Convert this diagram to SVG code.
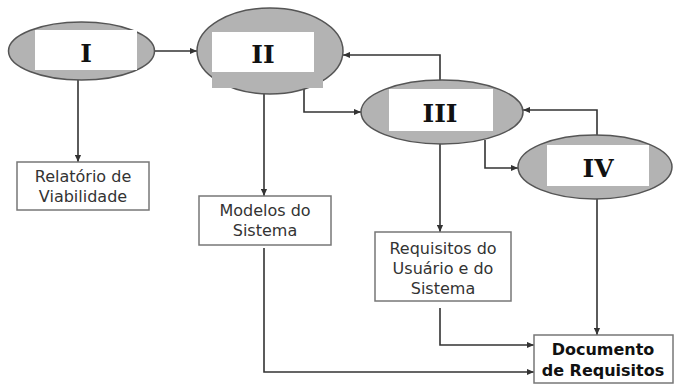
<svg xmlns="http://www.w3.org/2000/svg" width="676" height="385" viewBox="0 0 676 385">
<defs>
<marker id="arr" viewBox="0 0 8 8" refX="8" refY="4" markerWidth="7" markerHeight="7" markerUnits="userSpaceOnUse" orient="auto">
<path d="M0,0.5 L8,4 L0,7.5 Z" fill="#333"/>
</marker>
</defs>
<style>
.ell{fill:#b3b3b3;stroke:#555;stroke-width:1.5}
.win{fill:#fff;stroke:none}
.gray{fill:#b3b3b3;stroke:none}
.box{fill:#fff;stroke:#777;stroke-width:1.5}
.num{font-family:"DejaVu Serif",serif;font-weight:bold;font-size:25px;fill:#111;text-anchor:middle}
.lbl{font-family:"DejaVu Sans",sans-serif;font-size:16px;fill:#333;text-anchor:middle}
.bold{font-family:"DejaVu Sans",sans-serif;font-weight:bold;font-size:16px;fill:#111;text-anchor:middle}
.con{fill:none;stroke:#333;stroke-width:1.6}
</style>
<rect width="676" height="385" fill="#fff"/>
<g id="connectors">
<path class="con" d="M155,51 H197" marker-end="url(#arr)"/>
<path class="con" d="M78,80 V162" marker-end="url(#arr)"/>
<path class="con" d="M264,94 V196" marker-end="url(#arr)"/>
<path class="con" d="M304,88 V112 H361" marker-end="url(#arr)"/>
<path class="con" d="M440,80 V55 H343" marker-end="url(#arr)"/>
<path class="con" d="M485,140 V168 H518" marker-end="url(#arr)"/>
<path class="con" d="M597,135 V110 H523" marker-end="url(#arr)"/>
<path class="con" d="M440,144 V232" marker-end="url(#arr)"/>
<path class="con" d="M597,199 V335" marker-end="url(#arr)"/>
<path class="con" d="M440,308 V345 H534" marker-end="url(#arr)"/>
<path class="con" d="M264,248 V372 H534" marker-end="url(#arr)"/>
</g>
<g id="node-I">
<ellipse class="ell" cx="81.5" cy="51" rx="73" ry="29"/>
<rect class="win" x="35" y="30" width="102" height="40"/>
<text class="num" x="86" y="62">I</text>
</g>
<g id="node-II">
<ellipse class="ell" cx="270" cy="51" rx="73" ry="43"/>
<rect class="gray" x="212" y="70" width="111" height="18"/>
<rect class="win" x="212" y="32" width="102" height="40"/>
<text class="num" x="263" y="63">II</text>
</g>
<g id="node-III">
<ellipse class="ell" cx="442" cy="112" rx="81" ry="32"/>
<rect class="win" x="389" y="89" width="104" height="42"/>
<text class="num" x="440" y="122">III</text>
</g>
<g id="node-IV">
<ellipse class="ell" cx="595" cy="167" rx="77" ry="32"/>
<rect class="win" x="547" y="145" width="102" height="41"/>
<text class="num" x="598" y="177">IV</text>
</g>
<g id="node-relatorio">
<rect class="box" x="17" y="162" width="132" height="48"/>
<text class="lbl" x="83" y="182">Relatório de</text>
<text class="lbl" x="83" y="202">Viabilidade</text>
</g>
<g id="node-modelos">
<rect class="box" x="199" y="196" width="132" height="49"/>
<text class="lbl" x="265" y="216">Modelos do</text>
<text class="lbl" x="265" y="236">Sistema</text>
</g>
<g id="node-requisitos">
<rect class="box" x="375" y="232" width="136" height="69"/>
<text class="lbl" x="443" y="254">Requisitos do</text>
<text class="lbl" x="443" y="274">Usuário e do</text>
<text class="lbl" x="443" y="294">Sistema</text>
</g>
<g id="node-documento">
<rect class="box" x="534" y="335" width="139" height="48"/>
<text class="bold" x="603" y="355">Documento</text>
<text class="bold" x="603" y="376">de Requisitos</text>
</g>
</svg>
